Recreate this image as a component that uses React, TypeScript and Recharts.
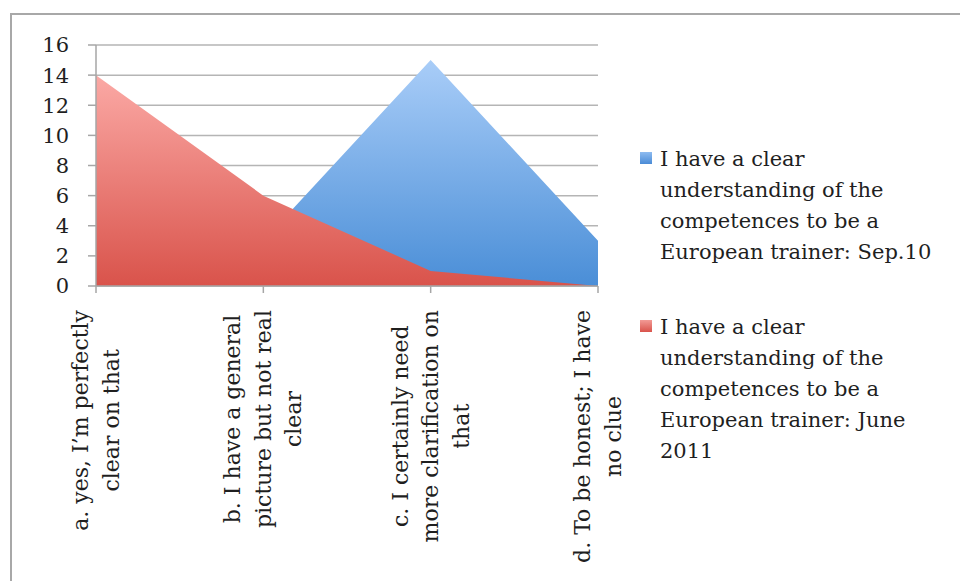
import React from 'react';
import { AreaChart, Area, XAxis, YAxis, CartesianGrid, Legend } from 'recharts';

const categories = [
  'a. yes, I’m perfectly\nclear on that',
  'b. I have a general\npicture but not real\nclear',
  'c. I certainly need\nmore clarification on\nthat',
  'd. To be honest; I have\nno clue',
];
const sep10 = [0, 3, 15, 3];
const june2011 = [14, 6, 1, 0];
const yTicks = [0, 2, 4, 6, 8, 10, 12, 14, 16];
const seriesNames = [
  'I have a clear understanding of the competences to be a European trainer: Sep.10',
  'I have a clear understanding of the competences to be a European trainer: June 2011',
];

const data = categories.map((c, i) => ({ cat: c, sep: sep10[i], june: june2011[i] }));

const FONT = '"DejaVu Serif", serif';
const XFS = 22;
const TEXT = '#1f1f1f';

let ctx: CanvasRenderingContext2D | null = null;
function measure(t: string): number {
  if (!ctx) ctx = document.createElement('canvas').getContext('2d');
  if (!ctx) return t.length * XFS * 0.55;
  ctx.font = `${XFS}px "DejaVu Serif"`;
  return ctx.measureText(t).width;
}

const XTick = (props: any) => {
  const { x, y, payload } = props;
  const lines = String(payload.value).split('\n');
  const maxW = Math.max(...lines.map(measure));
  const gap = 15;
  const cx = -(gap + maxW / 2);
  const spacing = 30.5;
  return (
    <g transform={`translate(${x},${y}) rotate(-90)`}>
      {lines.map((l, i) => (
        <text
          key={i}
          x={cx}
          y={(i - (lines.length - 1) / 2) * spacing}
          textAnchor="middle"
          dominantBaseline="central"
          fontFamily={FONT}
          fontSize={XFS}
          fill={TEXT}
        >
          {l}
        </text>
      ))}
    </g>
  );
};

const swatches = [
  'linear-gradient(#8dbbf0, #4a8bd6)',
  'linear-gradient(#f29a95, #d9534b)',
];

const LegendContent = () => (
  <div style={{ fontFamily: FONT, fontSize: 21, color: TEXT, lineHeight: '31px' }}>
    {seriesNames.map((n, i) => (
      <div
        key={i}
        style={{ display: 'flex', alignItems: 'flex-start', marginBottom: i === 0 ? 44 : 0 }}
      >
        <div style={{ width: 12, height: 12, marginTop: 8, marginRight: 8, background: swatches[i], flex: 'none' }} />
        <div style={{ width: 285 }}>{n}</div>
      </div>
    ))}
  </div>
);

export default function App() {
  return (
    <div style={{ position: 'fixed', left: 0, top: 0, width: 960, height: 581, background: '#fff', overflow: 'hidden' }}>
      <div
        style={{
          position: 'absolute',
          left: 10,
          top: 13,
          width: 1000,
          height: 700,
          borderTop: '2px solid #a8a8a8',
          borderLeft: '2px solid #a8a8a8',
        }}
      />
      <div style={{ position: 'absolute', left: 0, top: 0 }}>
        <AreaChart width={960} height={581} data={data} margin={{ top: 45, right: 362, bottom: 0, left: 0 }}>
          <defs>
            <linearGradient id="gBlue" x1="0" y1="0" x2="0" y2="1">
              <stop offset="0%" stopColor="#a9cdf8" />
              <stop offset="100%" stopColor="#4a8ed7" />
            </linearGradient>
            <linearGradient id="gRed" x1="0" y1="0" x2="0" y2="1">
              <stop offset="0%" stopColor="#fba9a5" />
              <stop offset="100%" stopColor="#d9534b" />
            </linearGradient>
          </defs>
          <CartesianGrid vertical={false} stroke="#b5b5b5" strokeWidth={1.5} />
          <XAxis
            dataKey="cat"
            interval={0}
            height={295}
            tickSize={7}
            tickMargin={2}
            axisLine={{ stroke: '#a6a6a6', strokeWidth: 1.5 }}
            tickLine={{ stroke: '#a6a6a6', strokeWidth: 1.5 }}
            tick={<XTick />}
          />
          <YAxis
            width={96}
            domain={[0, 16]}
            ticks={yTicks}
            interval={0}
            tickSize={8}
            tickMargin={19}
            axisLine={{ stroke: '#a6a6a6', strokeWidth: 1.5 }}
            tickLine={{ stroke: '#a6a6a6', strokeWidth: 1.5 }}
            tick={{ fontFamily: FONT, fontSize: 21, fill: TEXT }}
          />
          <Area
            type="linear"
            dataKey="sep"
            name={seriesNames[0]}
            stroke="none"
            fill="url(#gBlue)"
            fillOpacity={1}
            isAnimationActive={false}
          />
          <Area
            type="linear"
            dataKey="june"
            name={seriesNames[1]}
            stroke="none"
            fill="url(#gRed)"
            fillOpacity={1}
            isAnimationActive={false}
          />
          <Legend
            layout="vertical"
            align="center"
            verticalAlign="middle"
            content={<LegendContent />}
            wrapperStyle={{ position: 'absolute', left: 640, top: 144, width: 320, height: 'auto' }}
          />
        </AreaChart>
      </div>
    </div>
  );
}
